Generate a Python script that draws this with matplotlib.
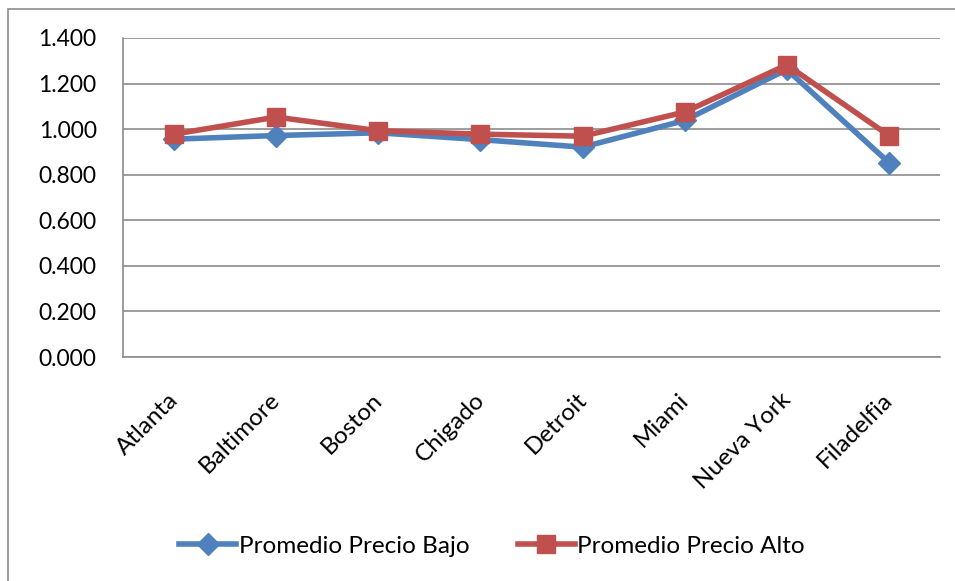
import matplotlib
matplotlib.use('Agg')
import matplotlib.pyplot as plt
import matplotlib.transforms as mtransforms
from matplotlib.patches import Rectangle

ciudades = ['Atlanta', 'Baltimore', 'Boston', 'Chigado', 'Detroit', 'Miami',
            'Nueva York', 'Filadelfia']
precio_bajo = [0.956, 0.972, 0.984, 0.954, 0.921, 1.038, 1.262, 0.853]
precio_alto = [0.978, 1.053, 0.993, 0.978, 0.969, 1.075, 1.282, 0.972]
yticks = [0.0, 0.2, 0.4, 0.6, 0.8, 1.0, 1.2, 1.4]
ytick_labels = ['0.000', '0.200', '0.400', '0.600', '0.800', '1.000', '1.200', '1.400']

plt.rcParams['font.family'] = ['Lato', 'DejaVu Sans']

fig = plt.figure(figsize=(9.55, 5.81), dpi=100)
# outer chart border
fig.patches.append(Rectangle((8/955, -0.01), 1.1, 1 - 9/581 + 0.01,
                             transform=fig.transFigure, fill=False,
                             edgecolor='#8c8c8c', lw=1.2))

ax = fig.add_axes([123/955, 1 - 357/581, (940-123)/955, (357-38)/581])
x = range(len(ciudades))
ax.plot(x, precio_bajo, color='#4F81BD', lw=4, marker='D', ms=11.5,
        label='Promedio Precio Bajo')
ax.plot(x, precio_alto, color='#C0504D', lw=4, marker='s', ms=13.5,
        label='Promedio Precio Alto')

ax.set_xlim(-0.5, len(ciudades) - 0.5)
ax.set_ylim(0, 1.4)
ax.set_yticks(yticks)
ax.set_yticklabels(ytick_labels, fontsize=16.5)
ax.yaxis.grid(True, color='#8c8c8c', lw=1.2)
ax.set_axisbelow(True)
for s in ['top', 'right']:
    ax.spines[s].set_visible(False)
for s in ['left', 'bottom']:
    ax.spines[s].set_color('#8c8c8c')
    ax.spines[s].set_linewidth(1.2)
ax.tick_params(axis='y', length=0, pad=19)
ax.tick_params(axis='x', length=0, pad=23)
ax.set_xticks(list(x))
ax.set_xticklabels(ciudades, rotation=45, ha='right', va='top', fontsize=17.5)
offset = mtransforms.ScaledTranslation(8/100, 0, fig.dpi_scale_trans)
for lab in ax.get_xticklabels():
    lab.set_transform(lab.get_transform() + offset)

ax.legend(loc='center', bbox_to_anchor=(492/955, 1 - 546/581),
          bbox_transform=fig.transFigure, ncol=2, frameon=False,
          fontsize=17.5, handlelength=2.35, handletextpad=0.1, columnspacing=2.0)

fig.savefig('out.png', dpi=100)
